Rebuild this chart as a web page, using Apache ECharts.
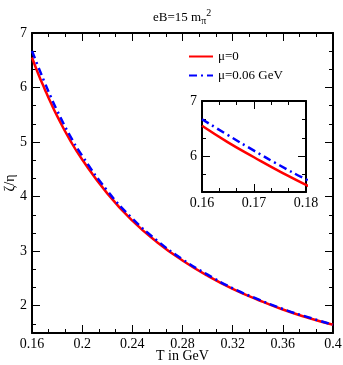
<!DOCTYPE html>
<html>
<head>
<meta charset="utf-8">
<script src="https://cdn.jsdelivr.net/npm/echarts@6/dist/echarts.min.js"></script>
<style>
html, body { margin: 0; padding: 0; background: #fff; }
#chart { width: 343px; height: 365px; }
</style>
</head>
<body>
<div id="chart"></div>
<script>
// temperature in GeV
const temps = [0.16, 0.165, 0.17, 0.175, 0.18, 0.19, 0.20, 0.22, 0.24, 0.26, 0.28, 0.30, 0.32, 0.34, 0.36, 0.38, 0.40]
// zeta/eta, mu = 0
const ratioMu0 = [6.55, 6.25, 5.98, 5.72, 5.48, 5.05, 4.68, 4.06, 3.56, 3.16, 2.83, 2.55, 2.31, 2.11, 1.93, 1.78, 1.65]
// zeta/eta, mu = 0.06 GeV
const ratioMu006 = [6.67, 6.38, 6.10, 5.83, 5.58, 5.13, 4.75, 4.11, 3.60, 3.19, 2.85, 2.57, 2.32, 2.12, 1.94, 1.79, 1.65]

const seriesNames = ['μ=0', 'μ=0.06 GeV']
const yTicksMain = [2, 3, 4, 5, 6, 7]
const yTicksInset = [6, 7]

const FONT = 'Liberation Serif'

// minor ticks at thirds between major ticks
function thirds (ticks, lo, hi) {
  const out = []
  const step = ticks[1] - ticks[0]
  for (let t = ticks[0] - step; t <= ticks[ticks.length - 1]; t += step) {
    [1, 2].forEach(k => {
      const v = +(t + step * k / 3).toFixed(4)
      if (v > lo && v < hi) out.push(v)
    })
  }
  return out
}

const pairs = vals => temps.map((t, i) => [t, vals[i]])

const frame = { show: true, lineStyle: { color: '#000', width: 2 } }
const labelStyle = { color: '#000', fontFamily: FONT, fontSize: 14 }

function xAx (gridIndex, min, max, interval, pos, labels, extra) {
  return Object.assign({
    type: 'value',
    gridIndex,
    position: pos,
    min,
    max,
    interval,
    axisLine: frame,
    axisTick: { show: true, inside: true, length: 8, lineStyle: { color: '#000', width: 1 } },
    minorTick: { show: true, splitNumber: 3, length: 4, lineStyle: { color: '#000', width: 1 } },
    axisLabel: Object.assign({ show: labels, margin: 4 }, labelStyle),
    splitLine: { show: false }
  }, extra || {})
}

function yAx (gridIndex, min, max, ticks, pos, labels, len, extra) {
  return Object.assign({
    type: 'value',
    gridIndex,
    position: pos,
    min,
    max,
    axisLine: len > 5 ? frame : { show: false },
    axisTick: { show: true, inside: true, length: len, customValues: ticks, lineStyle: { color: '#000', width: 1 } },
    axisLabel: Object.assign({ show: labels, margin: 5, customValues: ticks }, labelStyle),
    splitLine: { show: false }
  }, extra || {})
}

const hiddenX = gi => ({ type: 'value', gridIndex: gi, show: false, min: 0, max: 1 })

const mainGrid = { left: 32, top: 33, right: 10, bottom: 32, containLabel: false, outerBoundsMode: 'none' }
const insetGrid = { left: 202, top: 101, width: 104, height: 91, containLabel: false, outerBoundsMode: 'none' }

const myChart = echarts.init(document.getElementById('chart'))
const option = {
  animation: false,
  backgroundColor: '#fff',
  title: {
    text: 'eB=15 m{sub|π}{sup|2}',
    left: 148,
    top: 3,
    textStyle: {
      fontFamily: FONT,
      fontSize: 13,
      fontWeight: 'normal',
      color: '#000',
      rich: {
        sub: { fontFamily: FONT, fontSize: 10, color: '#000', padding: [7, 0, 0, 0] },
        sup: { fontFamily: FONT, fontSize: 10, color: '#000', padding: [0, 0, 9, 0] }
      }
    }
  },
  legend: {
    data: seriesNames,
    orient: 'vertical',
    left: 183,
    top: 45,
    itemWidth: 24,
    itemHeight: 12,
    itemGap: 6,
    itemStyle: { opacity: 0 },
    textStyle: { fontFamily: FONT, fontSize: 13, color: '#000' }
  },
  grid: [
    mainGrid,
    Object.assign({}, insetGrid, { show: true, backgroundColor: '#fff', borderWidth: 0 }),
    mainGrid,
    insetGrid
  ],
  xAxis: [
    xAx(0, 0.16, 0.4, 0.04, 'bottom', true, {
      name: 'T in GeV',
      nameLocation: 'middle',
      nameGap: 16,
      nameMoveOverlap: false,
      nameTextStyle: { fontFamily: FONT, fontSize: 14, color: '#000', verticalAlign: 'top' }
    }),
    xAx(0, 0.16, 0.4, 0.04, 'top', false),
    xAx(1, 0.16, 0.18, 0.01, 'bottom', true),
    xAx(1, 0.16, 0.18, 0.01, 'top', false),
    hiddenX(2),
    hiddenX(3)
  ],
  yAxis: [
    yAx(0, 1.5, 7, yTicksMain, 'left', true, 8, {
      name: 'ζ/η',
      nameLocation: 'middle',
      nameGap: 15,
      nameRotate: 90,
      nameMoveOverlap: false,
      nameTextStyle: { fontFamily: FONT, fontSize: 14, color: '#000' }
    }),
    yAx(0, 1.5, 7, yTicksMain, 'right', false, 8),
    yAx(1, 5.35, 7, yTicksInset, 'left', true, 8),
    yAx(1, 5.35, 7, yTicksInset, 'right', false, 8),
    yAx(2, 1.5, 7, thirds(yTicksMain, 1.5, 7), 'left', false, 4),
    yAx(2, 1.5, 7, thirds(yTicksMain, 1.5, 7), 'right', false, 4),
    yAx(3, 5.35, 7, thirds(yTicksInset, 5.35, 7), 'left', false, 4),
    yAx(3, 5.35, 7, thirds(yTicksInset, 5.35, 7), 'right', false, 4)
  ],
  series: [
    {
      name: seriesNames[0],
      type: 'line',
      xAxisIndex: 0,
      yAxisIndex: 0,
      smooth: true,
      symbol: 'none',
      color: '#ff0000',
      lineStyle: { color: '#ff0000', width: 2.5 },
      data: pairs(ratioMu0)
    },
    {
      name: seriesNames[1],
      type: 'line',
      xAxisIndex: 0,
      yAxisIndex: 0,
      smooth: true,
      symbol: 'none',
      color: '#0000ff',
      lineStyle: { color: '#0000ff', width: 2.5, type: [8, 4, 2, 4] },
      data: pairs(ratioMu006)
    },
    {
      name: seriesNames[0],
      type: 'line',
      xAxisIndex: 2,
      yAxisIndex: 2,
      smooth: true,
      symbol: 'none',
      clip: true,
      color: '#ff0000',
      lineStyle: { color: '#ff0000', width: 2.5 },
      data: pairs(ratioMu0)
    },
    {
      name: seriesNames[1],
      type: 'line',
      xAxisIndex: 2,
      yAxisIndex: 2,
      smooth: true,
      symbol: 'none',
      clip: true,
      color: '#0000ff',
      lineStyle: { color: '#0000ff', width: 2.5, type: [8, 4, 2, 4] },
      data: pairs(ratioMu006)
    }
  ]
}
myChart.setOption(option)
</script>
</body>
</html>
